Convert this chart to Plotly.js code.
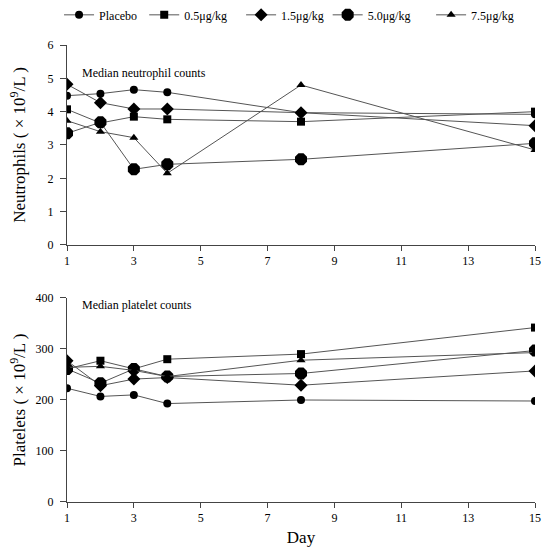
<!DOCTYPE html>
<html><head><meta charset="utf-8">
<script src="https://cdn.plot.ly/plotly-3.0.1.min.js"></script>
<style>body{margin:0;background:#fff}#g{width:547px;height:555px}</style>
</head><body><div id="g"></div>
<script>
const days = [1, 2, 3, 4, 8, 15];
const groups = ["Placebo", "0.5μg/kg", "1.5μg/kg", "5.0μg/kg", "7.5μg/kg"];
const neutPlacebo = [4.48, 4.54, 4.66, 4.58, 3.97, 3.92];
const neut05 = [4.07, 3.66, 3.85, 3.77, 3.70, 4.00];
const neut15 = [4.82, 4.27, 4.08, 4.08, 3.97, 3.58];
const neut50 = [3.35, 3.68, 2.27, 2.42, 2.57, 3.05];
const neut75 = [3.73, 3.40, 3.22, 2.15, 4.80, 2.85];
const platPlacebo = [223, 207, 210, 193, 200, 198];
const plat05 = [261, 277, 261, 280, 290, 342];
const plat15 = [277, 228, 241, 244, 229, 257];
const plat50 = [261, 233, 261, 246, 252, 297];
const plat75 = [264, 266, 258, 246, 278, 293];
const xTicks = [1, 3, 5, 7, 9, 11, 13, 15];

const neutData = [neutPlacebo, neut05, neut15, neut50, neut75];
const platData = [platPlacebo, plat05, plat15, plat50, plat75];
const symbols = ["circle", "square", "diamond", "octagon", "triangle-up"];
const sizes = [8, 8, 10, 13, 8];
const legendNames = ["legend", "legend2", "legend3", "legend4", "legend5"];
const legendX = [-0.017, 0.165, 0.372, 0.557, 0.778];

const traces = [];
groups.forEach((g, i) => {
  traces.push({x: days, y: neutData[i], name: g, type: "scatter", mode: "lines+markers",
    xaxis: "x", yaxis: "y", legend: legendNames[i],
    line: {color: "#555", width: 1}, marker: {symbol: symbols[i], size: sizes[i], color: "#000"}});
});
groups.forEach((g, i) => {
  traces.push({x: days, y: platData[i], name: g, type: "scatter", mode: "lines+markers",
    xaxis: "x2", yaxis: "y2", showlegend: false,
    line: {color: "#555", width: 1}, marker: {symbol: symbols[i], size: sizes[i], color: "#000"}});
});

const font = {family: "Liberation Serif, Times New Roman, serif", color: "#000"};
const xBase = {range: [1, 15], tickvals: xTicks, ticks: "outside", ticklen: 5, tickcolor: "#444",
  showline: true, linecolor: "#444", linewidth: 1, showgrid: false, zeroline: false,
  tickfont: {size: 12}, fixedrange: true};
const yBase = {ticks: "outside", ticklen: 6, tickcolor: "#444", showline: true, linecolor: "#444",
  linewidth: 1, showgrid: false, zeroline: false, tickfont: {size: 12}, ticklabelstandoff: 4};

const layout = {
  width: 547, height: 555, font: font,
  paper_bgcolor: "#fff", plot_bgcolor: "#fff",
  margin: {l: 67, r: 12, t: 45, b: 53, autoexpand: false},
  xaxis: Object.assign({}, xBase, {domain: [0, 1], anchor: "y"}),
  yaxis: Object.assign({}, yBase, {domain: [0.5624, 1], range: [0, 6], dtick: 1, anchor: "x",
    title: {text: "Neutrophils ( × 10<sup>9</sup>/L )", font: {size: 17}, standoff: 17}}),
  xaxis2: Object.assign({}, xBase, {domain: [0, 1], anchor: "y2",
    title: {text: "Day", font: {size: 17}, standoff: 6}}),
  yaxis2: Object.assign({}, yBase, {domain: [0, 0.4464], range: [0, 400], dtick: 100, anchor: "x2",
    title: {text: "Platelets ( × 10<sup>9</sup>/L )", font: {size: 17}, standoff: 5}}),
  annotations: [
    {text: "Median neutrophil counts", xref: "paper", yref: "paper", x: 0.027, y: 0.938,
     xanchor: "left", yanchor: "middle", showarrow: false, font: {size: 12}},
    {text: "Median platelet counts", xref: "paper", yref: "paper", x: 0.027, y: 0.431,
     xanchor: "left", yanchor: "middle", showarrow: false, font: {size: 12}}
  ]
};
legendNames.forEach((ln, i) => {
  layout[ln] = {x: legendX[i], y: 1.066, xanchor: "left", yanchor: "middle", orientation: "h",
    bgcolor: "rgba(0,0,0,0)", borderwidth: 0, font: {size: 12}, itemwidth: 30};
});

Plotly.newPlot("g", traces, layout, {displayModeBar: false, staticPlot: true});
</script></body></html>
